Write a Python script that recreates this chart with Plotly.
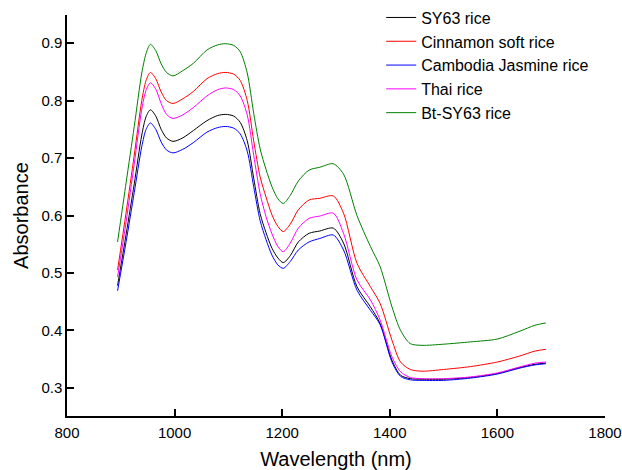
import plotly.graph_objects as go

wavelength = [894, 910, 925, 939, 947, 955, 965, 975, 985, 997, 1015, 1035, 1060, 1080, 1095,
              1110, 1122, 1135, 1147, 1159, 1170, 1181, 1192, 1202, 1215, 1230, 1250, 1270, 1295,
              1314, 1339, 1364, 1382, 1404, 1420, 1438, 1460, 1500, 1550, 1600, 1640, 1670, 1690]

sy63 = [.478, .568, .655, .740, .772, .784, .773, .750, .735, .729, .735, .748, .765, .774, .776,
        .773, .762, .730, .665, .603, .570, .543, .526, .518, .530, .554, .569, .573, .578,
        .552, .476, .441, .412, .348, .322, .316, .315, .315, .318, .325, .335, .341, .343]

cinnamon = [.505, .606, .705, .800, .835, .849, .838, .815, .800, .795, .803, .816, .838, .847, .849,
            .846, .835, .800, .730, .667, .632, .601, .581, .572, .585, .610, .627, .630, .634,
            .604, .517, .476, .447, .383, .345, .332, .329, .332, .337, .345, .355, .364, .367]

cambodia = [.469, .555, .640, .720, .750, .761, .750, .728, .714, .709, .715, .727, .745, .753, .755,
            .752, .742, .712, .650, .591, .558, .531, .514, .508, .520, .540, .554, .560, .566,
            .540, .470, .435, .410, .345, .320, .314, .313, .313, .317, .324, .334, .340, .342]

thai = [.493, .590, .690, .785, .818, .831, .820, .795, .776, .769, .775, .788, .808, .819, .822,
        .819, .808, .775, .705, .638, .598, .568, .546, .537, .552, .578, .595, .599, .604,
        .569, .488, .453, .418, .354, .328, .318, .316, .316, .319, .326, .336, .343, .345]

bt_sy63 = [.554, .658, .755, .848, .882, .898, .887, .864, .849, .843, .852, .865, .888, .897, .899,
           .896, .885, .848, .778, .716, .680, .650, .629, .621, .635, .660, .679, .684, .690,
           .672, .600, .546, .511, .441, .400, .377, .374, .376, .380, .385, .398, .409, .413]

series_names = ["SY63 rice", "Cinnamon soft rice", "Cambodia Jasmine rice", "Thai rice", "Bt-SY63 rice"]
series_values = [sy63, cinnamon, cambodia, thai, bt_sy63]
series_colors = ["#000000", "#ff0000", "#0000ff", "#ff00ff", "#008000"]

x_ticks = [800, 1000, 1200, 1400, 1600, 1800]
y_ticks = [0.3, 0.4, 0.5, 0.6, 0.7, 0.8, 0.9]

FONT = "Arial, Liberation Sans, sans-serif"

fig = go.Figure()
for name, vals, col in zip(series_names, series_values, series_colors):
    fig.add_trace(go.Scatter(x=wavelength, y=vals, name=name, mode="lines",
                             line=dict(color=col, width=1, shape="spline", smoothing=0.8)))

fig.update_layout(
    width=622, height=470,
    margin=dict(l=67, r=17, t=15, b=54, autoexpand=False),
    paper_bgcolor="white", plot_bgcolor="white",
    font=dict(family=FONT, color="black", size=15),
    showlegend=True,
    legend=dict(x=0.584, y=1.036, xanchor="left", yanchor="top",
                bgcolor="rgba(0,0,0,0)", font=dict(size=16, family=FONT),
                tracegroupgap=0),
)
fig.update_xaxes(
    range=[800, 1800], tickvals=x_ticks, ticktext=[str(v) for v in x_ticks],
    showline=True, linecolor="black", linewidth=1.5, mirror=False,
    ticks="inside", ticklen=7, tickwidth=1.5, tickcolor="black",
    showgrid=False, zeroline=False, ticklabelstandoff=2,
    title=dict(text="Wavelength (nm)", font=dict(size=20, family=FONT), standoff=14),
    automargin=False, tickfont=dict(size=15),
)
fig.update_yaxes(
    range=[0.251, 0.949], tickvals=y_ticks, ticktext=[f"{v:.1f}" for v in y_ticks],
    showline=True, linecolor="black", linewidth=1.5, mirror=False,
    ticks="inside", ticklen=7, tickwidth=1.5, tickcolor="black",
    showgrid=False, zeroline=False, ticklabelstandoff=0,
    title=dict(text="Absorbance", font=dict(size=20, family=FONT), standoff=7),
    automargin=False, tickfont=dict(size=15),
)

# remove the default page margin so the 622x470 figure fills the window exactly
fig.write_html("out.html",
               config={"displayModeBar": False},
               post_script="document.body.style.margin='0';document.body.style.overflow='hidden';")
